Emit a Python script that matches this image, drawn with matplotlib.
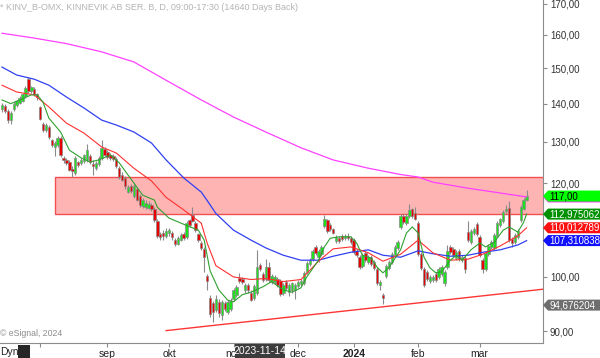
import matplotlib
matplotlib.use("Agg")
import matplotlib.pyplot as plt
from matplotlib.patches import Rectangle, Polygon
from matplotlib.ticker import FixedLocator, FuncFormatter, NullLocator
from matplotlib.transforms import IdentityTransform
import numpy as np
import pandas as pd

plt.rcParams["font.family"] = ["Liberation Sans", "DejaVu Sans"]

# ── trading calendar (Stockholm, daily bars) ───────────────────────────────
HOLIDAYS = ["2023-12-25", "2023-12-26", "2024-01-01"]
dates = pd.bdate_range("2023-07-13", "2024-03-25", freq="C", holidays=HOLIDAYS)

# ── daily OHLC, KINV B (SEK) ───────────────────────────────────────────────
opens = [
    138.5, 139.3, 138.0, 135.7, 138.6, 139.5, 140.3, 140.8, 142.0, 146.8,
    143.4, 144.0, 142.6, 139.0, 134.6, 133.0, 133.7, 130.4, 128.8, 129.2,
    131.0, 126.0, 125.5, 125.0, 123.2, 122.4, 124.9, 124.8, 125.2, 125.5,
    126.5, 124.5, 123.5, 124.5, 126.0, 128.3, 127.5, 126.6, 126.4, 125.8,
    123.5, 122.0, 121.2, 118.0, 119.2, 117.0, 118.5, 117.0, 114.8, 114.6,
    114.4, 115.0, 114.2, 111.5, 108.6, 108.9, 108.3, 108.8, 109.0, 107.5,
    106.7, 107.5, 108.7, 108.0, 111.6, 112.8, 111.0, 108.6, 106.8, 105.5,
    100.2, 96.0, 95.0, 93.8, 95.3, 92.8, 95.0, 93.5, 94.0, 95.8,
    96.5, 99.8, 99.6, 97.4, 98.5, 97.0, 96.0, 97.0, 102.3, 100.6,
    99.6, 102.0, 99.0, 99.0, 99.6, 99.2, 97.0, 99.0, 97.2, 97.5,
    97.5, 98.2, 98.6, 98.8, 101.0, 102.6, 103.6, 106.0, 104.0, 104.6,
    110.4, 111.6, 110.5, 109.7, 107.2, 107.8, 108.2, 107.8, 108.2, 107.8,
    107.4, 105.2, 104.0, 102.2, 104.8, 103.0, 104.0, 103.0, 101.5, 98.4,
    96.6, 100.2, 101.8, 103.0, 104.4, 105.8, 110.2, 112.6, 111.0, 112.5,
    114.0, 113.2, 111.0, 104.5, 101.6, 101.0, 99.2, 99.5, 100.6, 100.0,
    100.5, 98.8, 102.0, 106.0, 105.6, 103.8, 105.2, 103.4, 103.8, 109.2,
    107.0, 108.8, 110.8, 108.0, 103.4, 101.5, 104.5, 106.0, 105.8, 108.5,
    110.6, 111.5, 113.6, 114.3, 107.6, 107.0, 108.0, 111.6, 114.2, 116.2,
]
highs = [
    140.2, 139.8, 138.5, 138.0, 140.5, 141.0, 142.0, 143.0, 144.8, 147.5,
    145.0, 144.5, 143.0, 139.3, 135.0, 134.8, 134.2, 130.8, 130.2, 131.5,
    131.5, 126.5, 126.0, 125.4, 124.0, 126.5, 125.3, 126.0, 127.0, 129.5,
    127.0, 125.5, 125.2, 126.4, 130.5, 128.8, 128.0, 127.2, 126.9, 126.2,
    124.0, 122.5, 121.6, 119.5, 119.8, 119.8, 119.0, 117.5, 116.5, 116.0,
    115.8, 115.5, 114.6, 112.0, 109.2, 109.6, 110.0, 110.0, 109.4, 107.9,
    108.2, 108.8, 109.1, 111.5, 112.0, 114.6, 111.4, 109.0, 107.2, 106.0,
    100.5, 96.5, 95.5, 96.5, 95.8, 95.6, 95.5, 95.6, 96.0, 97.8,
    98.4, 100.8, 100.0, 98.8, 98.9, 97.4, 98.6, 105.4, 102.8, 101.0,
    103.6, 103.0, 100.6, 100.4, 100.0, 99.6, 98.9, 99.4, 98.8, 99.0,
    98.8, 99.4, 99.6, 101.2, 103.2, 103.8, 105.6, 106.4, 105.6, 106.4,
    112.8, 112.0, 111.0, 110.0, 108.4, 108.2, 108.6, 108.7, 108.8, 108.2,
    107.8, 105.6, 104.4, 104.8, 105.2, 104.4, 104.4, 103.4, 101.9, 99.4,
    97.0, 102.6, 103.4, 104.9, 106.4, 107.4, 112.9, 113.0, 113.0, 115.2,
    114.4, 114.5, 111.4, 104.9, 102.0, 101.4, 100.4, 100.4, 101.0, 101.9,
    102.4, 101.4, 106.4, 106.4, 106.0, 105.4, 105.6, 104.4, 104.2, 111.5,
    109.8, 110.2, 111.2, 108.4, 103.8, 105.2, 106.6, 107.4, 108.9, 111.4,
    112.2, 113.9, 115.0, 115.8, 108.0, 108.8, 109.8, 114.9, 116.6, 118.3,
]
lows = [
    137.8, 137.6, 134.8, 134.5, 138.0, 139.0, 139.8, 140.5, 141.5, 143.0,
    142.8, 142.0, 141.0, 135.6, 132.4, 132.5, 130.7, 128.6, 126.5, 128.8,
    126.2, 124.8, 124.2, 122.8, 121.5, 121.8, 123.8, 124.2, 124.8, 125.0,
    124.6, 122.0, 123.0, 124.0, 125.6, 126.4, 125.8, 125.5, 125.2, 123.6,
    121.0, 120.4, 118.7, 117.6, 117.8, 116.5, 115.8, 114.5, 114.3, 114.0,
    114.0, 113.6, 111.3, 107.8, 107.4, 107.5, 107.8, 108.3, 107.5, 106.2,
    106.4, 107.2, 107.4, 107.7, 110.2, 111.2, 109.2, 107.0, 105.4, 101.0,
    97.5, 92.5, 91.6, 93.4, 92.5, 92.0, 93.6, 93.0, 93.6, 95.4,
    96.2, 98.8, 98.6, 97.0, 97.0, 95.4, 95.6, 96.6, 101.2, 99.0,
    99.2, 99.0, 98.6, 98.6, 98.0, 96.4, 96.6, 97.5, 96.4, 97.0,
    95.8, 97.8, 98.2, 98.4, 100.6, 102.2, 103.2, 104.4, 103.0, 104.2,
    110.0, 109.0, 109.4, 108.6, 106.8, 106.8, 107.2, 107.4, 107.4, 106.7,
    104.6, 104.0, 101.6, 101.8, 102.9, 102.6, 102.2, 101.4, 98.4, 97.5,
    94.8, 99.8, 101.4, 102.6, 104.0, 105.4, 109.8, 110.8, 110.6, 112.1,
    112.2, 111.6, 104.1, 101.4, 98.1, 99.2, 98.8, 99.1, 99.0, 99.6,
    100.1, 98.2, 101.6, 104.6, 104.0, 103.4, 103.1, 103.0, 100.8, 107.0,
    106.6, 108.4, 108.2, 104.0, 100.8, 101.1, 104.1, 105.6, 105.4, 108.1,
    110.2, 111.1, 113.2, 107.1, 106.0, 106.6, 107.6, 111.2, 113.8, 115.8,
]
closes = [
    139.5, 138.0, 135.7, 137.6, 139.8, 140.6, 141.5, 142.6, 144.2, 143.5,
    144.5, 142.6, 141.7, 136.0, 133.0, 134.3, 131.2, 129.2, 129.8, 131.0,
    126.7, 125.6, 124.8, 123.1, 122.8, 126.0, 124.3, 125.5, 126.7, 128.0,
    125.0, 124.0, 124.8, 126.0, 128.5, 126.8, 126.3, 126.0, 125.8, 124.0,
    121.5, 120.8, 119.2, 119.0, 118.2, 119.3, 116.2, 115.0, 116.0, 115.5,
    115.3, 114.0, 111.7, 108.3, 108.0, 108.2, 109.4, 109.6, 108.0, 106.5,
    107.8, 108.4, 107.8, 111.0, 110.6, 111.5, 109.6, 107.4, 105.8, 104.0,
    99.3, 93.0, 93.5, 95.8, 93.2, 95.3, 94.0, 95.2, 95.5, 97.5,
    98.0, 99.2, 99.0, 98.5, 97.4, 95.7, 98.2, 102.0, 101.6, 99.5,
    102.0, 99.4, 100.2, 100.0, 98.5, 96.8, 98.5, 97.9, 98.4, 98.8,
    98.4, 99.0, 99.2, 100.8, 102.8, 103.4, 105.2, 104.8, 105.2, 106.0,
    111.9, 109.4, 109.8, 109.0, 108.0, 107.2, 107.6, 108.3, 107.8, 107.1,
    105.0, 104.4, 102.0, 104.4, 103.3, 104.0, 102.6, 101.8, 98.8, 99.0,
    96.0, 102.2, 103.0, 104.5, 106.0, 107.0, 112.5, 111.2, 112.6, 113.8,
    112.6, 112.0, 104.5, 101.8, 98.5, 99.6, 100.0, 100.0, 99.4, 101.5,
    102.0, 101.0, 105.2, 105.0, 104.4, 105.0, 103.5, 104.0, 101.5, 107.4,
    109.4, 109.8, 108.6, 104.4, 101.5, 104.8, 106.2, 107.0, 108.5, 111.0,
    111.8, 113.5, 114.2, 107.5, 106.8, 108.4, 109.4, 114.5, 116.2, 117.0,
]

# ── moving averages at sample sessions ────────────────────────────────────
ma200_days = ["2023-07-13", "2023-07-28", "2023-08-14", "2023-08-30", "2023-09-14",
              "2023-09-29", "2023-10-17", "2023-11-01", "2023-11-16", "2023-12-04",
              "2023-12-19", "2024-01-09", "2024-01-24", "2024-02-01", "2024-02-08",
              "2024-02-26", "2024-03-12", "2024-03-25"]
ma200_vals = [160.5, 159.0, 157.3, 154.8, 151.8, 146.5, 141.0, 136.4, 132.5, 128.5,
              125.5, 123.5, 122.0, 121.4, 120.2, 118.8, 117.7, 116.8]

ma_days = ["2023-07-13", "2023-07-20", "2023-07-28", "2023-08-04", "2023-08-14",
           "2023-08-22", "2023-08-30", "2023-09-06", "2023-09-14", "2023-09-22",
           "2023-09-29", "2023-10-09", "2023-10-17", "2023-10-19", "2023-10-24",
           "2023-11-01", "2023-11-09", "2023-11-16", "2023-11-24", "2023-12-04",
           "2023-12-12", "2023-12-19", "2023-12-29", "2024-01-09", "2024-01-16",
           "2024-01-24", "2024-02-01", "2024-02-08", "2024-02-16", "2024-02-26",
           "2024-03-04", "2024-03-12", "2024-03-20", "2024-03-25"]
ma50_vals = [150.3, 148.0, 146.8, 145.1, 141.8, 138.8, 135.6, 134.3, 132.5, 129.7,
             125.5, 121.2, 117.9, 116.0, 113.1, 109.5, 107.4, 105.8, 104.3, 103.3,
             103.3, 104.1, 104.9, 105.4, 104.3, 103.9, 105.2, 104.6, 104.1, 104.3,
             104.9, 105.4, 106.4, 107.3]
ma20_vals = [145.1, 143.2, 142.4, 139.1, 134.8, 132.2, 128.7, 127.2, 123.5, 120.5,
             116.7, 113.9, 111.0, 106.8, 102.2, 100.0, 99.5, 99.7, 99.1, 99.5,
             103.1, 105.6, 106.0, 104.8, 103.1, 104.5, 107.4, 104.8, 103.3, 103.5,
             104.5, 106.2, 108.3, 110.0]

ma5_days = ["2023-07-13", "2023-07-18", "2023-07-21", "2023-07-27", "2023-07-31",
            "2023-08-02", "2023-08-04", "2023-08-10", "2023-08-15", "2023-08-21",
            "2023-08-24", "2023-08-29", "2023-09-04", "2023-09-07", "2023-09-14",
            "2023-09-19", "2023-09-25", "2023-09-26", "2023-10-02", "2023-10-10",
            "2023-10-16", "2023-10-18", "2023-10-20", "2023-10-25", "2023-10-30",
            "2023-11-01", "2023-11-06", "2023-11-09", "2023-11-15", "2023-11-20",
            "2023-11-24", "2023-11-29", "2023-12-04", "2023-12-06", "2023-12-12",
            "2023-12-14", "2023-12-18", "2023-12-21", "2023-12-29", "2024-01-03",
            "2024-01-05", "2024-01-10", "2024-01-12", "2024-01-16", "2024-01-18",
            "2024-01-24", "2024-01-26", "2024-01-30", "2024-02-01", "2024-02-05",
            "2024-02-07", "2024-02-09", "2024-02-13", "2024-02-16", "2024-02-20",
            "2024-02-22", "2024-02-27", "2024-03-01", "2024-03-05", "2024-03-08",
            "2024-03-13", "2024-03-15", "2024-03-20", "2024-03-22", "2024-03-25"]
ma5_vals = [141.0, 140.0, 141.0, 142.4, 142.4, 140.4, 136.1, 132.5, 127.9, 126.0,
            125.0, 125.5, 126.7, 124.8, 120.0, 117.2, 116.1, 114.5, 112.1, 110.5,
            109.5, 107.4, 101.2, 97.5, 95.6, 95.3, 96.6, 97.1, 98.1, 99.1,
            97.5, 97.1, 97.9, 100.0, 103.3, 106.0, 107.8, 108.1, 108.1, 106.8,
            104.3, 103.7, 101.9, 100.8, 101.8, 105.4, 108.9, 110.2, 108.9, 103.9,
            101.8, 100.8, 101.0, 103.3, 104.3, 103.3, 105.4, 106.8, 106.0, 107.0,
            109.5, 110.2, 109.1, 111.2, 113.0]

# resistance zone and support trendline
zone_start = "2023-08-08"
zone_low, zone_high = 113.1, 121.5
trend_days = ["2023-09-29", "2024-03-25"]
trend_vals = [90.1, 97.3]

# last values shown in the price scale
tag_vals = [116.8, 117.00, 112.975062, 110.012789, 107.310838, 94.676204]
tag_text = ["", "117,00", "112,975062", "110,012789", "107,310838", "94,676204"]
tag_face = ["#ff33ff", "#00ff00", "#009000", "#ff1010", "#1010ff", "#6e6e6e"]
tag_fg = ["white", "black", "white", "white", "white", "white"]

month_names = ["", "sep", "okt", "nov", "dec", "2024", "feb", "mar"]
price_ticks = [90, 100, 110, 120, 130, 140, 150, 160, 170]
hidden_tick = 110  # sits under the 110,01 tag

W, H = 600, 358
n = len(closes)
dates = dates[:n]
bar = np.arange(n)


def bar_of(days):
    return dates.searchsorted(pd.to_datetime(days))


def price_label(v, pos):
    if v == hidden_tick:
        return ""
    return f"{v:.2f}".replace(".", ",")


o = np.array(opens)
hi = np.array(highs)
lo = np.array(lows)
c = np.array(closes)
up = c >= o

fig = plt.figure(figsize=(W / 100, H / 100), dpi=100)
ax = fig.add_axes([0, 15 / H, 543 / W, 343 / H])
ax.set_yscale("log")
XMAX = 184.6
ax.set_xlim(-0.68, XMAX)
ax.set_ylim(87.96, 171.2)

# zone
zx = bar_of([zone_start])[0]
ax.add_patch(Rectangle((zx, zone_low), XMAX - zx + 2, zone_high - zone_low,
                       facecolor="#ffb4b4", edgecolor="#f05050", lw=1.0, zorder=1))

# candles
ax.vlines(bar, lo, hi, color="#8a8a8a", lw=0.8, zorder=2)
body = np.maximum(np.abs(c - o), 0.2)
ax.bar(bar, body, bottom=np.minimum(o, c), width=0.82,
       color=np.where(up, "#1ee01e", "#e80000"), edgecolor="#8a8a8a",
       linewidth=0.5, zorder=3)

# moving averages
ax.plot(bar_of(ma200_days), ma200_vals, color="#ff40ff", lw=0.9, zorder=4)
ax.plot(bar_of(ma_days), ma50_vals, color="#3040f0", lw=0.9, zorder=4)
ax.plot(bar_of(ma_days), ma20_vals, color="#ff3030", lw=0.8, zorder=4)
ax.plot(bar_of(ma5_days), ma5_vals, color="#30a030", lw=0.8, zorder=4)

# trendline, extended to the right edge
tx = bar_of(trend_days)
k = (np.log(trend_vals[1]) - np.log(trend_vals[0])) / (tx[1] - tx[0])
y_end = np.exp(np.log(trend_vals[0]) + k * (XMAX - tx[0]))
ax.plot([tx[0], XMAX], [trend_vals[0], y_end], color="#ff3535", lw=1.0, zorder=4)

# axes styling
for side in ("left", "top"):
    ax.spines[side].set_visible(False)
for side in ("right", "bottom"):
    ax.spines[side].set_color("#8c8c8c")
    ax.spines[side].set_linewidth(0.8)

ax.yaxis.tick_right()
ax.yaxis.set_major_locator(FixedLocator(price_ticks))
ax.yaxis.set_minor_locator(NullLocator())
ax.yaxis.set_major_formatter(FuncFormatter(price_label))
ax.tick_params(axis="y", length=3, pad=2, labelsize=7, colors="#8c8c8c", labelcolor="#333333")

month_starts = [i for i in range(1, n) if dates[i].month != dates[i - 1].month]
ax.set_xticks(month_starts)
ax.set_xticklabels(month_names)
ax.tick_params(axis="x", length=3, pad=1, labelsize=7.5, colors="#8c8c8c", labelcolor="#222222")
for lab in ax.get_xticklabels():
    if lab.get_text() == "2024":
        lab.set_fontweight("bold")

# texts
fig.text(0.0, 1 - 8 / H, "* KINV_B-OMX, KINNEVIK AB SER. B, D, 09:00-17:30 (14640 Days Back)",
         color="#b4b4b4", fontsize=6.5, va="center", ha="left")
fig.text(0.0, 1 - 334 / H, "\u00a9 eSignal, 2024", color="#8c8c8c", fontsize=6.3,
         va="center", ha="left")
fig.text(0.0, 1 - 352 / H, "Dyn", color="#222222", fontsize=7.5, va="center", ha="left")
fig.add_artist(Rectangle((18 / W, 0), 12 / W, 13 / H, transform=fig.transFigure,
                         facecolor="#262626", edgecolor="none"))

# crosshair date box
nov14 = bar_of(["2023-11-14"])[0]
xd = ax.transData.transform((nov14, 100))[0]
fig.add_artist(Rectangle(((xd - 25) / W, 0), 50 / W, 14 / H, transform=fig.transFigure,
                         facecolor="#3c3c3c", edgecolor="none", zorder=5))
fig.text(xd / W, 1 - 351 / H, "2023-11-14", color="white", fontsize=7.5,
         va="center", ha="center", zorder=6)

# price tags on the right scale
for val, txt, face, fg in zip(tag_vals, tag_text, tag_face, tag_fg):
    yd = ax.transData.transform((0, val))[1]
    hh = 5.5
    pts = [(543, yd), (548, yd + hh), (W, yd + hh), (W, yd - hh), (548, yd - hh)]
    fig.add_artist(Polygon(pts, closed=True, transform=IdentityTransform(),
                           facecolor=face, edgecolor="none", zorder=5))
    if txt:
        fig.text(549 / W, yd / H, txt, color=fg, fontsize=7, va="center",
                 ha="left", zorder=6)

fig.savefig("out.png", dpi=100)
